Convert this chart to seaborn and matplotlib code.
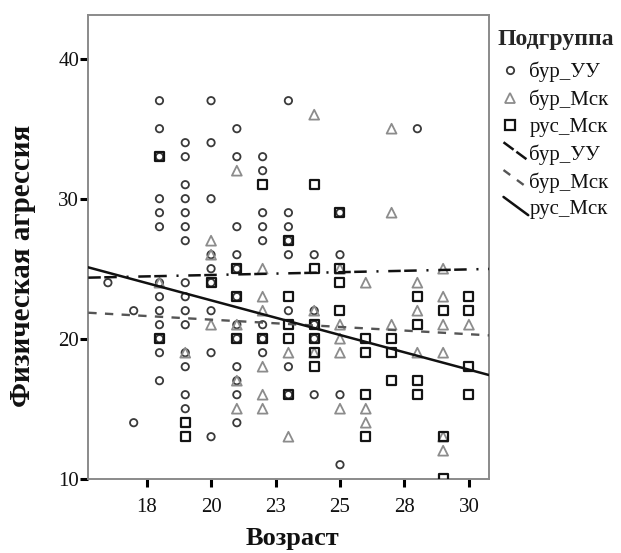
import matplotlib
matplotlib.use("Agg")
import matplotlib.pyplot as plt
import seaborn as sns
import pandas as pd
from matplotlib.lines import Line2D
from matplotlib.legend_handler import HandlerLine2D

# ---------------- data ----------------
groups = ["бур_УУ", "бур_Мск", "рус_Мск"]

bur_uu_age = [16,
              17, 17,
              18, 18, 18, 18, 18, 18, 18, 18, 18, 18, 18, 18, 18,
              19, 19, 19, 19, 19, 19, 19, 19, 19, 19, 19, 19, 19, 19, 19,
              20, 20, 20, 20, 20, 20, 20, 20, 20,
              21, 21, 21, 21, 21, 21, 21, 21, 21, 21, 21, 21,
              22, 22, 22, 22, 22, 22, 22, 22,
              23, 23, 23, 23, 23, 23, 23, 23,
              24, 24, 24, 24, 24,
              25, 25, 25, 25,
              28]
bur_uu_aggr = [24,
               22, 14,
               37, 35, 33, 30, 29, 28, 24, 23, 22, 21, 20, 19, 17,
               34, 33, 31, 30, 29, 28, 27, 24, 23, 22, 21, 19, 18, 16, 15,
               37, 34, 30, 26, 25, 24, 22, 19, 13,
               35, 33, 28, 26, 25, 23, 21, 20, 18, 17, 16, 14,
               33, 32, 29, 28, 27, 21, 20, 19,
               37, 29, 28, 27, 26, 22, 18, 16,
               26, 22, 21, 20, 16,
               29, 26, 16, 11,
               35]

bur_msk_age = [18,
               19,
               20, 20, 20,
               21, 21, 21, 21,
               22, 22, 22, 22, 22, 22,
               23, 23,
               24, 24, 24,
               25, 25, 25, 25, 25,
               26, 26, 26,
               27, 27, 27,
               28, 28, 28,
               29, 29, 29, 29, 29, 29,
               30]
bur_msk_aggr = [24,
                19,
                27, 26, 21,
                32, 21, 17, 15,
                25, 23, 22, 18, 16, 15,
                19, 13,
                36, 22, 19,
                25, 21, 20, 19, 15,
                24, 15, 14,
                35, 29, 21,
                24, 22, 19,
                25, 23, 21, 19, 13, 12,
                21]

rus_msk_age = [18, 18,
               19, 19,
               20,
               21, 21, 21,
               22, 22,
               23, 23, 23, 23, 23,
               24, 24, 24, 24, 24, 24,
               25, 25, 25, 25,
               26, 26, 26, 26,
               27, 27, 27,
               28, 28, 28, 28,
               29, 29, 29,
               30, 30, 30, 30]
rus_msk_aggr = [33, 20,
                14, 13,
                24,
                25, 23, 20,
                31, 20,
                27, 23, 21, 20, 16,
                31, 25, 21, 20, 19, 18,
                29, 25, 24, 22,
                20, 19, 16, 13,
                20, 19, 17,
                23, 21, 17, 16,
                22, 13, 10,
                23, 22, 18, 16]

# fitted lines (value at age 20 and slope per year)
fit_at20 = [24.55, 21.36, 22.74]
fit_slope = [0.040, -0.104, -0.495]

x_ticks = [17.5, 20, 22.5, 25, 27.5, 30]
x_ticklabels = ["18", "20", "23", "25", "28", "30"]
y_ticks = [10, 20, 30, 40]
x_lim = (15.24, 30.79)
y_lim = (10, 43.12)

# ---------------- styling ----------------
sns.set_theme(style="white")
plt.rcParams["font.family"] = ["Liberation Serif", "DejaVu Serif"]
plt.rcParams["lines.scale_dashes"] = False

marker_map = {"бур_УУ": "o", "бур_Мск": "^", "рус_Мск": "s"}
color_map = {"бур_УУ": "#3a3a3a", "бур_Мск": "#8c8c8c", "рус_Мск": "#141414"}
size_map = {"бур_УУ": 28, "бур_Мск": 50, "рус_Мск": 42}
lw_map = {"бур_УУ": 1.3, "бур_Мск": 1.3, "рус_Мск": 1.6}
line_color = {"бур_УУ": "#111111", "бур_Мск": "#555555", "рус_Мск": "#111111"}
line_style = {"бур_УУ": (0, (9, 2.5, 9, 7, 1.5, 7)),
              "бур_Мск": (0, (6, 6)),
              "рус_Мск": "-"}
line_width = {"бур_УУ": 1.8, "бур_Мск": 1.7, "рус_Мск": 1.8}

df = pd.concat([
    pd.DataFrame({"age": bur_uu_age, "aggr": bur_uu_aggr, "group": "бур_УУ"}),
    pd.DataFrame({"age": bur_msk_age, "aggr": bur_msk_aggr, "group": "бур_Мск"}),
    pd.DataFrame({"age": rus_msk_age, "aggr": rus_msk_aggr, "group": "рус_Мск"}),
], ignore_index=True)

fig = plt.figure(figsize=(6.21, 5.53), dpi=100)
ax = fig.add_axes([88.3 / 621, 1 - 478.7 / 553, (489.3 - 88.3) / 621, (478.7 - 15) / 553])

for g in groups:
    sub = df[df["group"] == g]
    sns.scatterplot(data=sub, x="age", y="aggr", marker=marker_map[g],
                    s=size_map[g], color="none", edgecolor=color_map[g],
                    linewidth=lw_map[g], ax=ax, legend=False, zorder=3)

# fit lines across the full x range
for i, g in enumerate(groups):
    xs = list(x_lim)
    ys = [fit_at20[i] + fit_slope[i] * (xv - 20) for xv in xs]
    line_df = pd.DataFrame({"age": xs, "aggr": ys})
    sns.lineplot(data=line_df, x="age", y="aggr", ax=ax, color=line_color[g],
                 linestyle=line_style[g], linewidth=line_width[g], zorder=4,
                 legend=False, sort=False)

ax.set_xlim(*x_lim)
ax.set_ylim(*y_lim)
ax.set_xticks(x_ticks)
ax.set_xticklabels(x_ticklabels)
ax.set_yticks(y_ticks)
ax.tick_params(axis="both", which="major", direction="out", length=5.5, width=2.2,
               color="black", labelsize=15, labelcolor="#111111")
ax.tick_params(axis="x", pad=8.5)
ax.tick_params(axis="y", pad=1)
ax.tick_params(left=True, bottom=True)

for sp in ax.spines.values():
    sp.set_color("#8a8a8a")
    sp.set_linewidth(1.4)
    sp.set_visible(True)

ax.set_xlabel("Возраст", fontsize=19, fontweight="bold", color="#111111")
ax.set_ylabel("Физическая агрессия", fontsize=21, fontweight="bold", color="#111111")
ax.xaxis.set_label_coords(0.508, -0.104)
ax.yaxis.set_label_coords(-0.13, 0.46)


class HandlerDiag(HandlerLine2D):
    def create_artists(self, legend, orig_handle, xdescent, ydescent, width, height,
                       fontsize, trans):
        line = Line2D([-xdescent + width * 0.25, -xdescent + width * 1.2],
                      [-ydescent + height * 1.2, -ydescent - height * 0.05])
        self.update_prop(line, orig_handle, legend)
        line.set_marker("None")
        line.set_transform(trans)
        return [line]


handles, labels, handler_map = [], [], {}
for g in groups:
    h = Line2D([], [], linestyle="none", marker=marker_map[g], markerfacecolor="none",
               markeredgecolor=color_map[g], markersize=size_map[g] ** 0.5,
               markeredgewidth=lw_map[g])
    handles.append(h)
    labels.append(g)
for g in groups:
    h = Line2D([], [], color=line_color[g], linestyle=line_style[g],
               linewidth=line_width[g])
    handles.append(h)
    labels.append(g)
    handler_map[h] = HandlerDiag()

leg = fig.legend(handles, labels, loc="upper left", bbox_to_anchor=(497 / 621, 1 - 29 / 553),
                 frameon=False, title="Подгруппа", fontsize=15,
                 title_fontproperties={"weight": "bold", "size": 17, "family": "Liberation Serif"},
                 handlelength=1.25, handletextpad=0.3, labelspacing=0.35,
                 borderaxespad=0, borderpad=0, alignment="left", handler_map=handler_map)
leg._legend_box.sep = 8.5
for t in leg.get_texts():
    t.set_color("#111111")

fig.savefig("out.png", dpi=100)
